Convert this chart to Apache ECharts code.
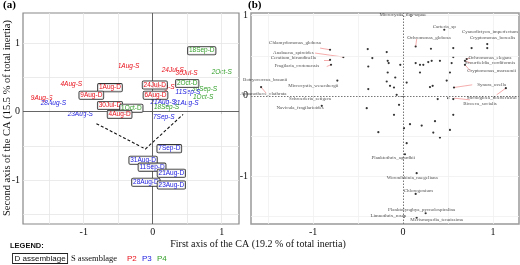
<!DOCTYPE html>
<html>
<head>
<meta charset="utf-8">
<script src="https://cdn.jsdelivr.net/npm/echarts@6/dist/echarts.min.js"></script>
<style>
  html, body { margin: 0; padding: 0; background: #fff; }
  #main { width: 520px; height: 265px; }
</style>
</head>
<body>
<div id="main"></div>
<script>
// ---- panel (a): sampling dates ----
var aLabels = ['18Sep-D','1Aug-S','24Jul-S','30Jul-S','2Oct-S','4Aug-S','24Jul-D','2Oct-D','1Aug-D','6Aug-S',
               '30Sep-S','11Sep-S','1Oct-S','9Aug-D','6Aug-D','9Aug-S','28Aug-S','21Aug-S','31Aug-S','30Jul-D',
               '1Oct-D','18Sep-S','23Aug-S','4Aug-D','7Sep-S','7Sep-D','31Aug-D','11Sep-D','21Aug-D','28Aug-D','23Aug-D']
var aX = [0.71,-0.35,0.29,0.49,1.0,-1.18,0.03,0.50,-0.62,0.16,
          0.75,0.51,0.73,-0.89,0.04,-1.61,-1.44,0.15,0.48,-0.62,
          -0.31,0.2,-1.05,-0.48,0.16,0.24,-0.14,-0.01,0.27,-0.10,0.27]
var aY = [0.89,0.66,0.60,0.56,0.58,0.40,0.39,0.41,0.35,0.35,
          0.33,0.29,0.21,0.24,0.24,0.19,0.13,0.14,0.13,0.09,
          0.05,0.07,-0.04,-0.04,-0.08,-0.54,-0.71,-0.81,-0.90,-1.03,-1.07]
var aPeriod = ['P4','P2','P2','P2','P4','P2','P2','P4','P2','P2',
               'P4','P3','P4','P2','P2','P2','P3','P3','P3','P2',
               'P4','P4','P3','P2','P3','P3','P3','P3','P3','P3','P3']
var arrowX = [-0.816,-0.106,0.44]
var arrowY = [-0.175,-0.545,-0.04]

// ---- panel (b): species ----
var bX = [0.089,0.459,0.141,0.311,0.559,0.763,0.937,0.937,-0.811,-0.663,
          -0.811,-0.8,-0.392,-0.341,-0.181,-0.17,-0.159,-0.386,-0.03,-0.17,
          -0.086,-0.181,-0.144,-0.73,-0.386,0.041,-0.1,-0.07,-1.578,-0.403,
          -0.903,-0.1,0.141,0.189,0.226,0.281,0.319,0.411,0.541,0.559,
          0.189,0.522,0.708,0.689,0.689,0.3,0.33,0.486,0.567,1.144,
          0.386,0.503,0.559,0.559,-0.044,0.078,0.208,0.356,0.337,0.522,
          0.411,-0.274,0.011,0.041,0.022,0.152,0.141,0.252,0.011,0.152]
var bY = [1.0,0.825,0.616,0.588,0.596,0.596,0.646,0.596,0.575,0.484,
          0.45,0.388,0.584,0.471,0.546,0.4375,0.409,0.366,0.3875,0.291,
          0.229,0.179,0.125,0.191,0.084,0.166,0.104,0.0125,0.109,-0.154,
          -0.125,-0.2375,0.409,0.3875,0.3875,0.421,0.4375,0.4375,0.409,0.484,
          0.291,0.291,0.459,0.4375,0.3875,0.109,0.125,0.191,0.104,0.096,
          -0.041,-0.029,-0.041,-0.2375,-0.1125,-0.354,-0.371,-0.316,-0.459,-0.425,
          -0.521,-0.454,-0.404,-0.591,-0.729,-0.966,-1.225,-1.466,-1.509,-1.521]
var bNames = ['Microcystis_flos-aquae','Carteria_sp','Ochromonas_globosa','Cyanodictyon_imperfectum','Cryptomonas_borealis',
              'Chlamydomonas_globosa','Anabaena_spiroides','Ceratium_hirundinella','Fragilaria_crotonensis','Botryococcus_braunii',
              'Microcystis_wesenbergii','Aphanothece_clathrata','Schroederia_setigera','Navicula_fragilarioides','Ochromonas_elegans',
              'Scourfieldia_cordiformis','Cryptomonas_marssonii','Synura_uvella','Stichogloea_doederleinii','Bicoeca_socialis',
              'Planktothrix_agardhii','Woronichinia_naegeliana','Chlorogonium','Planktolyngbya_pycnolospiralina','Limnothrix_rosea',
              'Merismopedia_tenuissima']
var bNameX = [0,0.459,0.289,0.967,0.997,-1.2,-1.219,-1.219,-1.181,-1.533,
              -0.997,-1.552,-1.033,-1.144,0.967,0.967,0.986,0.986,0.986,0.856,
              -0.108,0.103,0.17,0.208,-0.163,0.374]
var bNameY = [1.01,0.866,0.729,0.804,0.721,0.659,0.541,0.471,0.375,0.2,
              0.125,0.021,-0.041,-0.146,0.471,0.409,0.3125,0.1375,-0.021,-0.104,
              -0.771,-1.016,-1.184,-1.425,-1.5,-1.55]
// connector segments label -> point
var linkFrom = [[-0.922,0.596],[-0.978,0.534],[-0.878,0.45],[-0.848,0.366],[-1.578,0.109],[0.152,0.709],
                [0.744,0.47],[0.75,0.41],[0.75,0.31],[0.77,0.1375],[1.041,0.0125],[0.744,-0.05]]
var linkTo = [[-0.811,0.575],[-0.663,0.484],[-0.811,0.45],[-0.8,0.388],[-1.522,0.034],[0.141,0.616],
              [0.708,0.459],[0.689,0.4375],[0.689,0.3875],[0.567,0.104],[1.144,0.096],[0.567,-0.029]]

var gridA_X = [-1.5,-1,-0.5,0.5,1]
var gridA_Y = [-1.5,-1,-0.5,0.5,1]
var ticks = [-1,0,1]

var periodColor = {P2:'#e8101a', P3:'#2020e0', P4:'#34a02a'}
var serif = 'Liberation Serif'
var sans = 'Liberation Sans'

function axisCommon(grid, min, max){
  return {
    gridIndex: grid, type:'value', min:min, max:max,
    splitLine:{show:false}, axisLine:{show:false},
    axisTick:{show:true, length:2.5, customValues:ticks, lineStyle:{color:'#333', width:0.8}},
    axisLabel:{customValues:ticks, fontFamily:serif, fontSize:10, color:'#111', margin:3}
  }
}

function gridLines(values, axisKey){
  return values.map(function(v){ var o = {}; o[axisKey] = v; return o })
}

var sData = [], dData = []
aLabels.forEach(function(n,i){
  var item = {value:[aX[i],aY[i]], name:n, label:{color:periodColor[aPeriod[i]]}}
  if (n.slice(-1) === 'D') dData.push(item); else sData.push(item)
})

var myChart = echarts.init(document.getElementById('main'))
myChart.setOption({
  animation:false,
  grid:[
    {left:23, top:13, width:216, height:211, show:true, borderColor:'#888', borderWidth:1.2, backgroundColor:'#fff'},
    {left:251, top:13, width:268, height:211, show:true, borderColor:'#999', borderWidth:1.5, backgroundColor:'#fff'}
  ],
  xAxis:[axisCommon(0,-1.88,1.25), axisCommon(1,-1.69,1.29)],
  yAxis:[axisCommon(0,-1.64,1.44), axisCommon(1,-1.6,1.034)],
  series:[
    // panel a grid and zero lines
    {type:'scatter', xAxisIndex:0, yAxisIndex:0, data:[[0,0]], symbolSize:0, silent:true, z:1,
     markLine:{silent:true, symbol:'none', label:{show:false}, animation:false,
       lineStyle:{color:'#e6e6e6', type:'solid', width:0.8},
       data: gridLines(gridA_X,'xAxis').concat(gridLines(gridA_Y,'yAxis'))}},
    {type:'scatter', xAxisIndex:0, yAxisIndex:0, data:[[0,0]], symbolSize:0, silent:true, z:2,
     markLine:{silent:true, symbol:'none', label:{show:false}, animation:false,
       lineStyle:{color:'#555', type:'solid', width:0.9},
       data:[{xAxis:0},{yAxis:0}]}},
    // trajectory arrow
    {type:'lines', coordinateSystem:'cartesian2d', xAxisIndex:0, yAxisIndex:0, polyline:true, z:3,
     symbol:['none','arrow'], symbolSize:6,
     lineStyle:{color:'#111', width:1.1, type:[3,2], opacity:1},
     data:[{coords: arrowX.map(function(x,i){ return [x, arrowY[i]] })}]},
    // S assemblage labels
    {type:'scatter', xAxisIndex:0, yAxisIndex:0, symbolSize:1, itemStyle:{color:'transparent'}, z:4,
     data:sData,
     label:{show:true, position:'inside', formatter:'{b}', fontFamily:sans, fontSize:6.5, fontStyle:'italic',
       textBorderWidth:0, opacity:1}},
    // D assemblage labels (boxed)
    {type:'scatter', xAxisIndex:0, yAxisIndex:0, symbolSize:1, itemStyle:{color:'transparent'}, z:5,
     data:dData,
     label:{show:true, position:'inside', formatter:'{b}', fontFamily:sans, fontSize:6.5,
       textBorderWidth:0, opacity:1,
       backgroundColor:'rgba(255,255,255,0.75)', borderColor:'#333', borderWidth:0.8, borderRadius:1,
       padding:[0.5,1,0,1], lineHeight:7}},

    // panel b grid and zero lines
    {type:'scatter', xAxisIndex:1, yAxisIndex:1, data:[[0,0]], symbolSize:0, silent:true, z:1,
     markLine:{silent:true, symbol:'none', label:{show:false}, animation:false,
       lineStyle:{color:'#f0f0f0', type:'solid', width:0.8},
       data: gridLines(gridA_X,'xAxis').concat(gridLines(gridA_Y,'yAxis'))}},
    {type:'scatter', xAxisIndex:1, yAxisIndex:1, data:[[0,0]], symbolSize:0, silent:true, z:2,
     markLine:{silent:true, symbol:'none', label:{show:false}, animation:false,
       lineStyle:{color:'#777', type:[1.5,1.5], width:1},
       data:[{xAxis:0},{yAxis:0}]}},
    {type:'lines', coordinateSystem:'cartesian2d', xAxisIndex:1, yAxisIndex:1, z:3,
     lineStyle:{color:'#f08a8a', width:0.7, opacity:1},
     data: linkFrom.map(function(p,i){ return {coords:[p, linkTo[i]]} })},
    {type:'scatter', xAxisIndex:1, yAxisIndex:1, symbolSize:2.2, itemStyle:{color:'#000'}, z:4,
     data: bX.map(function(x,i){ return [x, bY[i]] })},
    {type:'scatter', xAxisIndex:1, yAxisIndex:1, symbolSize:1, itemStyle:{color:'transparent'}, z:5,
     data: bNames.map(function(n,i){ return {value:[bNameX[i], bNameY[i]], name:n} }),
     label:{show:true, position:'inside', formatter:'{b}', fontFamily:serif, fontSize:5, color:'#222', textBorderWidth:0}}
  ],
  graphic:[
    {type:'text', left:3, top:0, style:{text:'(a)', font:'bold 11px "Liberation Serif"', fill:'#000'}},
    {type:'text', left:248, top:0, style:{text:'(b)', font:'bold 11px "Liberation Serif"', fill:'#000'}},
    {type:'text', x:7, y:118, rotation:Math.PI/2,
     style:{text:'Second axis of the CA (15.5 % of total inertia)', font:'10.5px "Liberation Serif"', fill:'#111',
            textAlign:'center', textVerticalAlign:'middle'}},
    {type:'text', x:258, y:244,
     style:{text:'First axis of the CA (19.2 % of total inertia)', font:'10px "Liberation Serif"', fill:'#111',
            textAlign:'center', textVerticalAlign:'middle'}},
    {type:'text', x:10, y:246, style:{text:'LEGEND:', font:'bold 7.5px "Liberation Sans"', fill:'#111', textVerticalAlign:'middle'}},
    {type:'text', x:13, y:258.5,
     style:{text:'D assemblage', font:'8px "Liberation Sans"', fill:'#111', textVerticalAlign:'middle',
            backgroundColor:'#fff', borderColor:'#222', borderWidth:0.9, padding:[1,1.5,0,1.5]}},
    {type:'text', x:71, y:258.5, style:{text:'S assemblage', font:'8.5px "Liberation Serif"', fill:'#111', textVerticalAlign:'middle'}},
    {type:'text', x:127, y:258.5, style:{text:'P2', font:'8px "Liberation Sans"', fill:periodColor.P2, textVerticalAlign:'middle'}},
    {type:'text', x:142, y:258.5, style:{text:'P3', font:'8px "Liberation Sans"', fill:periodColor.P3, textVerticalAlign:'middle'}},
    {type:'text', x:157, y:258.5, style:{text:'P4', font:'8px "Liberation Sans"', fill:periodColor.P4, textVerticalAlign:'middle'}}
  ]
}, true)
</script>
</body>
</html>
